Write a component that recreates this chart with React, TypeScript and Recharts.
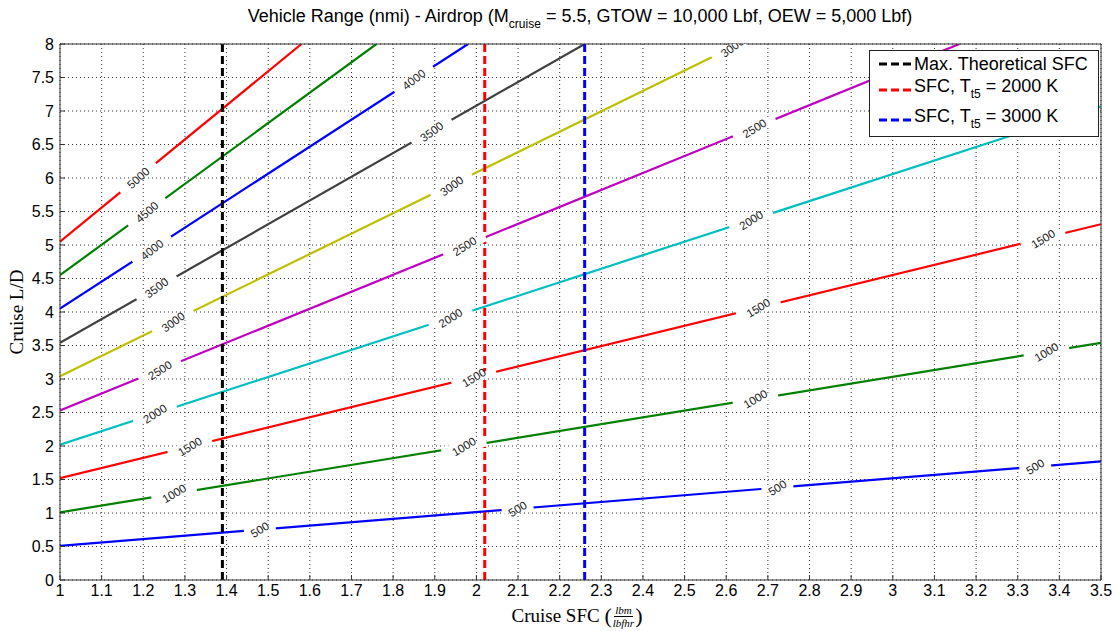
import React from 'react';
import { ComposedChart, Line, Scatter, XAxis, YAxis, CartesianGrid } from 'recharts';

// range contours: L/D at SFC = 1 and the point where each line leaves the plot
const rangeLevels = [500, 1000, 1500, 2000, 2500, 3000, 3500, 4000, 4500, 5000];
const ldAtSfcMin = [0.51, 1.01, 1.52, 2.02, 2.53, 3.04, 3.54, 4.05, 4.55, 5.05];
const sfcAtEnd = [3.5, 3.5, 3.5, 3.5, 3.16, 2.63, 2.26, 1.98, 1.76, 1.58];
const ldAtEnd = [1.77, 3.54, 5.31, 7.07, 8, 8, 8, 8, 8, 8];

// contour labels (clabel positions)
const labelLevels = [5000, 4500, 4000, 3500, 3000, 2500, 2000, 1500, 1000, 500, 4000, 3500, 3000, 2500, 2000, 1500, 1000, 500, 3000, 2500, 2000, 1500, 1000, 500, 1500, 1000, 500];
const labelSfc = [1.188, 1.209, 1.221, 1.232, 1.272, 1.24, 1.228, 1.312, 1.274, 1.48, 1.85, 1.893, 1.941, 1.972, 1.938, 1.994, 1.97, 2.099, 2.615, 2.668, 2.66, 2.677, 2.67, 2.723, 3.361, 3.369, 3.342];
const labelLd = [6.0, 5.49, 4.93, 4.36, 3.85, 3.13, 2.48, 1.99, 1.29, 0.75, 7.47, 6.69, 5.88, 4.98, 3.91, 3.02, 1.99, 1.06, 7.95, 6.74, 5.37, 4.06, 2.7, 1.375, 5.09, 3.4, 1.69];

// vertical SFC markers
const sfcMarkNames = ['Max. Theoretical SFC', 'SFC, Tt5 = 2000 K', 'SFC, Tt5 = 3000 K'];
const sfcMarkValues = [1.39, 2.02, 2.26];

const xTicks = [1, 1.1, 1.2, 1.3, 1.4, 1.5, 1.6, 1.7, 1.8, 1.9, 2, 2.1, 2.2, 2.3, 2.4, 2.5, 2.6, 2.7, 2.8, 2.9, 3, 3.1, 3.2, 3.3, 3.4, 3.5];
const yTicks = [0, 0.5, 1, 1.5, 2, 2.5, 3, 3.5, 4, 4.5, 5, 5.5, 6, 6.5, 7, 7.5, 8];

const contourColors = ['#0000ff', '#008000', '#ff0000', '#00bfbf', '#bf00bf', '#bfbf00', '#404040', '#0000ff', '#008000', '#ff0000'];
const markColors = ['#000000', '#ff0000', '#0000ff'];
const labelAngle: Record<number, number> = { 500: 32, 1000: 31, 1500: 31, 2000: 32, 2500: 32, 3000: 36, 3500: 36, 4000: 38, 4500: 41, 5000: 42 };

const W = 1117;
const H = 631;
const M = { top: 43, right: 15, bottom: 50, left: 59 };
const PLOT_W = W - M.left - M.right - 2;
const PLOT_H = H - M.top - M.bottom - 2;
const PX_RATIO = (PLOT_H / 8) / (PLOT_W / 2.5);

const sans = '"Liberation Sans", Arial, Helvetica, sans-serif';
const serif = '"Liberation Serif", "Times New Roman", serif';

const contours = rangeLevels.map((lvl, i) => ({
  level: lvl,
  color: contourColors[i],
  data: [
    { x: 1, y: ldAtSfcMin[i] },
    { x: sfcAtEnd[i], y: ldAtEnd[i] },
  ],
}));

const labels = labelLevels.map((lvl, i) => ({ x: labelSfc[i], y: labelLd[i], level: lvl }));

const marks = sfcMarkValues.map((v, i) => ({
  name: sfcMarkNames[i],
  color: markColors[i],
  data: [
    { x: v, y: 0 },
    { x: v, y: 8 },
  ],
}));

const ContourLabel = (props: any) => {
  const { cx, cy, payload } = props;
  if (cx == null || cy == null) return null;
  const lvl = payload.level;
  const idx = rangeLevels.indexOf(lvl);
  const lineAngle = (Math.atan(ldAtSfcMin[idx] * PX_RATIO) * 180) / Math.PI;
  const gap = lvl >= 1000 ? 46 : 32;
  return (
    <g>
      <rect
        x={-gap / 2}
        y={-3.5}
        width={gap}
        height={7}
        fill="#ffffff"
        transform={`translate(${cx},${cy}) rotate(${-lineAngle})`}
      />
      <text
        transform={`translate(${cx},${cy}) rotate(${-labelAngle[lvl]})`}
        textAnchor="middle"
        dominantBaseline="central"
        fontSize={11.5}
        fontFamily={sans}
        fill="#222"
      >
        {lvl}
      </text>
    </g>
  );
};

const DashSample = ({ color }: { color: string }) => (
  <svg width={34} height={6} style={{ display: 'block' }}>
    <line x1={1} y1={3} x2={33} y2={3} stroke={color} strokeWidth={3} strokeDasharray="8 4" />
  </svg>
);

const LegendBox = () => {
  const rows = [
    { y: 63, color: markColors[0], content: <span>{sfcMarkNames[0]}</span> },
    { y: 89, color: markColors[1], content: <span>SFC, T<sub style={{ fontSize: 12, verticalAlign: -6 }}>t5</sub> = 2000 K</span> },
    { y: 119, color: markColors[2], content: <span>SFC, T<sub style={{ fontSize: 12, verticalAlign: -6 }}>t5</sub> = 3000 K</span> },
  ];
  return (
    <div
      style={{
        position: 'absolute',
        left: 869,
        top: 50,
        width: 228,
        height: 85,
        border: '1px solid #222',
        background: '#fff',
        fontFamily: sans,
        fontSize: 18,
        color: '#000',
      }}
    >
      {rows.map((r, i) => (
        <div
          key={i}
          style={{ position: 'absolute', left: 8, top: r.y - 50 - 12, height: 24, display: 'flex', alignItems: 'center', whiteSpace: 'nowrap' }}
        >
          <DashSample color={r.color} />
          <div style={{ marginLeft: 2, lineHeight: '24px' }}>{r.content}</div>
        </div>
      ))}
    </div>
  );
};

export default function App() {
  return (
    <div style={{ position: 'absolute', left: 0, top: 0, width: W, height: H, background: '#fff' }}>
      <div
        style={{
          position: 'absolute',
          left: 80,
          width: 1000,
          top: 5,
          textAlign: 'center',
          fontFamily: sans,
          fontSize: 18,
          lineHeight: '22px',
          color: '#000',
          whiteSpace: 'nowrap',
        }}
      >
        Vehicle Range (nmi) - Airdrop (M<sub style={{ fontSize: 12, verticalAlign: -6 }}>cruise</sub> = 5.5, GTOW = 10,000 Lbf, OEW = 5,000 Lbf)
      </div>

      <ComposedChart width={W} height={H} margin={M}>
        <CartesianGrid stroke="#333" strokeDasharray="1 3" strokeWidth={1} />
        <XAxis
          dataKey="x"
          type="number"
          domain={[1, 3.5]}
          ticks={xTicks}
          allowDataOverflow
          height={1}
          tickSize={-5}
          tickMargin={10}
          stroke="#333"
          tick={{ fontSize: 16, fill: '#000', fontFamily: sans }}
        />
        <XAxis
          xAxisId="top"
          orientation="top"
          type="number"
          domain={[1, 3.5]}
          ticks={xTicks}
          allowDataOverflow
          height={1}
          tickSize={-5}
          tick={false}
          stroke="#333"
        />
        <YAxis
          dataKey="y"
          type="number"
          domain={[0, 8]}
          ticks={yTicks}
          allowDataOverflow
          width={1}
          tickSize={-5}
          tickMargin={11}
          stroke="#333"
          tick={{ fontSize: 16, fill: '#000', fontFamily: sans }}
        />
        <YAxis
          yAxisId="right"
          orientation="right"
          type="number"
          domain={[0, 8]}
          ticks={yTicks}
          allowDataOverflow
          width={1}
          tickSize={-5}
          tick={false}
          stroke="#333"
        />
        {contours.map((c) => (
          <Line
            key={`r${c.level}-${c.color}`}
            data={c.data}
            dataKey="y"
            type="linear"
            stroke={c.color}
            strokeWidth={2.2}
            dot={false}
            activeDot={false}
            legendType="none"
            isAnimationActive={false}
          />
        ))}
        <Scatter data={labels} dataKey="y" shape={<ContourLabel />} legendType="none" isAnimationActive={false} />
        {marks.map((m) => (
          <Line
            key={m.name}
            data={m.data}
            dataKey="y"
            type="linear"
            stroke={m.color}
            strokeWidth={3}
            strokeDasharray="8 4"
            dot={false}
            activeDot={false}
            legendType="none"
            isAnimationActive={false}
          />
        ))}
      </ComposedChart>

      <LegendBox />

      <div
        style={{
          position: 'absolute',
          left: 17 - 100,
          top: 312 - 12,
          width: 200,
          height: 24,
          lineHeight: '24px',
          textAlign: 'center',
          transform: 'rotate(-90deg)',
          fontFamily: serif,
          fontSize: 19,
          color: '#000',
        }}
      >
        Cruise L/D
      </div>

      <div
        style={{
          position: 'absolute',
          left: 377,
          width: 400,
          top: 601,
          textAlign: 'center',
          fontFamily: serif,
          fontSize: 19,
          color: '#000',
          display: 'flex',
          justifyContent: 'center',
          alignItems: 'center',
          height: 30,
        }}
      >
        <span>Cruise SFC&nbsp;</span>
        <span style={{ fontSize: 22 }}>(</span>
        <span style={{ display: 'inline-flex', flexDirection: 'column', alignItems: 'center', fontStyle: 'italic', fontSize: 11, lineHeight: '12px', margin: '0 1px' }}>
          <span style={{ borderBottom: '1px solid #000', padding: '0 1px' }}>lbm</span>
          <span>lbfhr</span>
        </span>
        <span style={{ fontSize: 22 }}>)</span>
      </div>
    </div>
  );
}
